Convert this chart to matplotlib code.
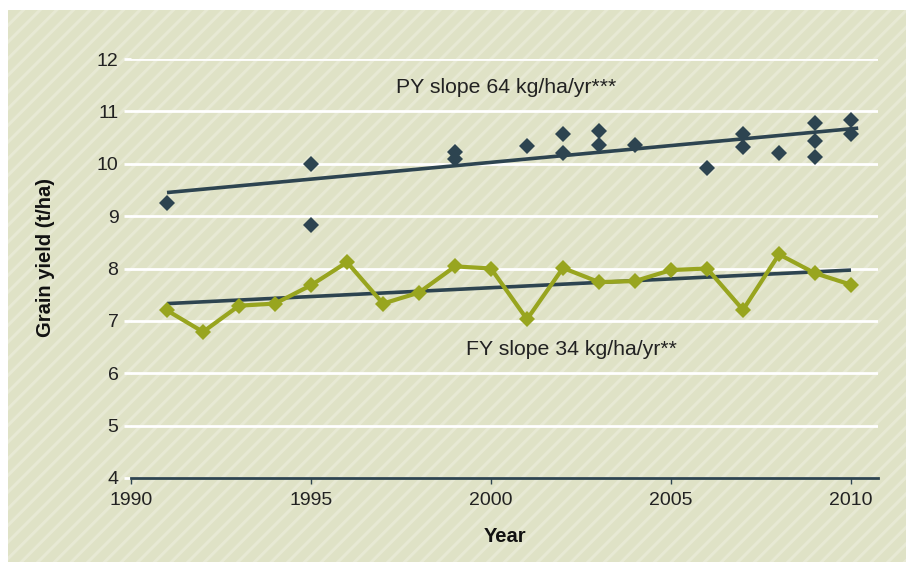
import matplotlib
matplotlib.use("Agg")
import matplotlib.pyplot as plt
from matplotlib.patches import Rectangle
import numpy as np

# ---- data ----
fy_years = [1991, 1992, 1993, 1994, 1995, 1996, 1997, 1998, 1999, 2000,
            2001, 2002, 2003, 2004, 2005, 2006, 2007, 2008, 2009, 2010]
fy_yield = [7.20, 6.79, 7.29, 7.33, 7.68, 8.12, 7.33, 7.54, 8.04, 8.00,
            7.03, 8.01, 7.74, 7.76, 7.97, 8.00, 7.21, 8.27, 7.91, 7.69]

py_years = [1991, 1995, 1995, 1999, 1999, 2001, 2002, 2002, 2003, 2003,
            2004, 2006, 2007, 2007, 2008, 2009, 2009, 2009, 2010, 2010]
py_yield = [9.26, 9.99, 8.84, 10.22, 10.09, 10.33, 10.56, 10.21, 10.63, 10.35,
            10.35, 9.92, 10.56, 10.32, 10.20, 10.77, 10.43, 10.13, 10.84, 10.56]

py_trend_x = [1991, 2010.2]
py_trend_y = [9.45, 10.68]
fy_trend_x = [1991, 2010]
fy_trend_y = [7.33, 7.97]

xticks = [1990, 1995, 2000, 2005, 2010]
yticks = [4, 5, 6, 7, 8, 9, 10, 11, 12]

DARK = "#2d4450"
GREEN = "#98a51f"
BG = "#dfe2c6"
STRIPE = "#e7e9d4"

plt.rcParams['font.family'] = ['Liberation Sans', 'DejaVu Sans']
plt.rcParams['hatch.linewidth'] = 2.2
plt.rcParams['hatch.color'] = STRIPE

fig = plt.figure(figsize=(9.06, 5.62), dpi=100)
fig.patch.set_facecolor('white')
bgrect = Rectangle((8/906, 0), 1 - 8/906, 1 - 10/562, transform=fig.transFigure,
                   facecolor=BG, edgecolor=STRIPE, hatch='//', linewidth=0, zorder=-10)
fig.patches.append(bgrect)

ax = fig.add_axes([131/906, 1 - 478/562, (878 - 131)/906, (478 - 59)/562])
ax.set_facecolor('none')
ax.set_xlim(1990, 2010.75)
ax.set_ylim(4, 12)

ax.set_yticks(yticks)
ax.set_xticks(xticks)
ax.grid(axis='y', color='white', linewidth=2, zorder=0)
ax.set_axisbelow(True)
for s in ['top', 'right', 'left']:
    ax.spines[s].set_visible(False)
ax.spines['bottom'].set_color(DARK)
ax.spines['bottom'].set_linewidth(2)
ax.spines['bottom'].set_zorder(5)
ax.tick_params(axis='y', length=5, width=2, color='white', labelsize=14,
               labelcolor='#222222', pad=4)
ax.tick_params(axis='x', length=4, width=1, color=DARK, labelsize=14,
               labelcolor='#222222', pad=6)

ax.plot(fy_years, fy_yield, color=GREEN, linewidth=3, marker='D',
        markersize=8.5, markeredgewidth=0, zorder=3)
ax.plot(fy_trend_x, fy_trend_y, color=DARK, linewidth=2.6, zorder=2,
        solid_capstyle='butt')
ax.plot(py_trend_x, py_trend_y, color=DARK, linewidth=2.6, zorder=2,
        solid_capstyle='butt')
ax.plot(py_years, py_yield, linestyle='none', marker='D', color=DARK,
        markersize=8.5, markeredgewidth=0, zorder=4)

ax.text(1997.35, 11.45, "PY slope 64 kg/ha/yr***", fontsize=15.3,
        color='#222222', va='center', ha='left')
ax.text(1999.3, 6.45, "FY slope 34 kg/ha/yr**", fontsize=15.3,
        color='#222222', va='center', ha='left')

ax.set_xlabel("Year", fontsize=14.5, fontweight='bold', color='#111111', labelpad=13)
ax.set_ylabel("Grain yield (t/ha)", fontsize=14.5, fontweight='bold',
              color='#111111')
ax.yaxis.set_label_coords(-0.102, 0.527)

fig.savefig("out.png", dpi=100, facecolor=fig.get_facecolor())
